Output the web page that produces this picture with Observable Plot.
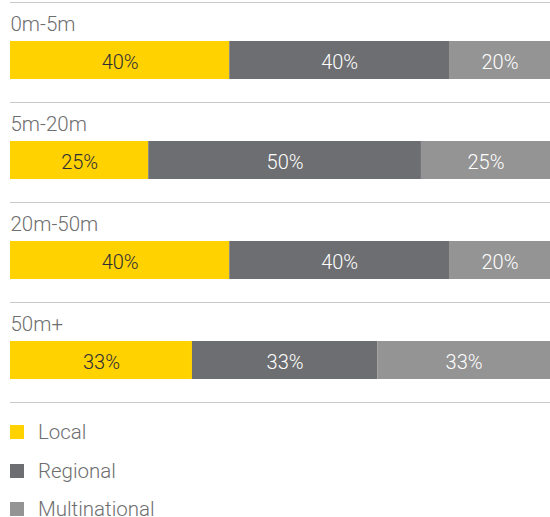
<!DOCTYPE html>
<html>
<head>
<meta charset="utf-8">
<script src="https://cdn.jsdelivr.net/npm/d3@7"></script>
<script src="https://cdn.jsdelivr.net/npm/@observablehq/plot@0.6"></script>
<style>
  html, body { margin: 0; padding: 0; background: #fff; }
  body { width: 550px; font-family: Roboto, "Open Sans", sans-serif; }
  #legend { margin: 0; padding: 0; }
  .row { display: flex; align-items: center; height: 38.5px; }
  .sw { width: 14px; height: 14px; margin-left: 10px; margin-right: 14px; }
  .lab { font-size: 20.5px; font-weight: 300; color: #6e6e6e; }
</style>
</head>
<body>
<div id="chart"></div>
<div id="legend"></div>
<script>
const groups = ["0m-5m", "5m-20m", "20m-50m", "50m+"];
const types = ["Local", "Regional", "Multinational"];
const colors = ["#FFD200", "#6D6E71", "#949494"];
const textColors = ["#2E2E38", "#FFFFFF", "#FFFFFF"];
// estimated shares
const local = [40.6, 25.6, 40.6, 33.7];
const regional = [40.7, 50.5, 40.7, 34.3];
const multinational = [18.7, 23.9, 18.7, 32.0];
// printed labels
const localLabels = ["40%", "25%", "40%", "33%"];
const regionalLabels = ["40%", "50%", "40%", "33%"];
const multinationalLabels = ["20%", "25%", "20%", "33%"];

const series = [local, regional, multinational];
const seriesLabels = [localLabels, regionalLabels, multinationalLabels];
const data = [];
groups.forEach((g, i) => {
  types.forEach((t, j) => {
    data.push({group: g, type: t, value: series[j][i], label: seriesLabels[j][i],
      color: colors[j], textColor: textColors[j]});
  });
});

const chart = Plot.plot({
  width: 550,
  height: 404,
  marginTop: 2,
  marginBottom: 2,
  marginLeft: 10,
  marginRight: 0,
  x: {axis: null, domain: [0, 1]},
  y: {axis: null, domain: groups, padding: 0},
  color: {type: "identity"},
  style: {fontFamily: "Roboto, 'Open Sans', sans-serif", background: "#fff"},
  marks: [
    Plot.ruleY(groups, {y: d => d, dy: -50, stroke: "#c8c8c8", strokeWidth: 1.2}),
    Plot.ruleY(groups.slice(-1), {y: d => d, dy: 50, stroke: "#c8c8c8", strokeWidth: 1.2}),
    Plot.text(groups, {y: d => d, x: () => 0, text: d => d, textAnchor: "start",
      lineAnchor: "middle", dy: -28, fontSize: 20.5, fontWeight: 300, fill: "#6e6e6e"}),
    Plot.barX(data, Plot.stackX({y: "group", x: "value", z: "type", offset: "normalize",
      fill: "color", insetTop: 39, insetBottom: 23})),
    Plot.text(data, Plot.stackX({y: "group", x: "value", z: "type", offset: "normalize",
      text: "label", fill: "textColor", fontSize: 20, fontWeight: 300,
      lineAnchor: "middle", dy: 10}))
  ]
});
document.getElementById("chart").appendChild(chart);

const legend = document.getElementById("legend");
legend.style.paddingTop = "9px";
types.forEach((t, j) => {
  const row = document.createElement("div");
  row.className = "row";
  const sw = document.createElement("div");
  sw.className = "sw";
  sw.style.background = colors[j];
  const lab = document.createElement("span");
  lab.className = "lab";
  lab.textContent = t;
  row.appendChild(sw);
  row.appendChild(lab);
  legend.appendChild(row);
});
</script>
</body>
</html>
